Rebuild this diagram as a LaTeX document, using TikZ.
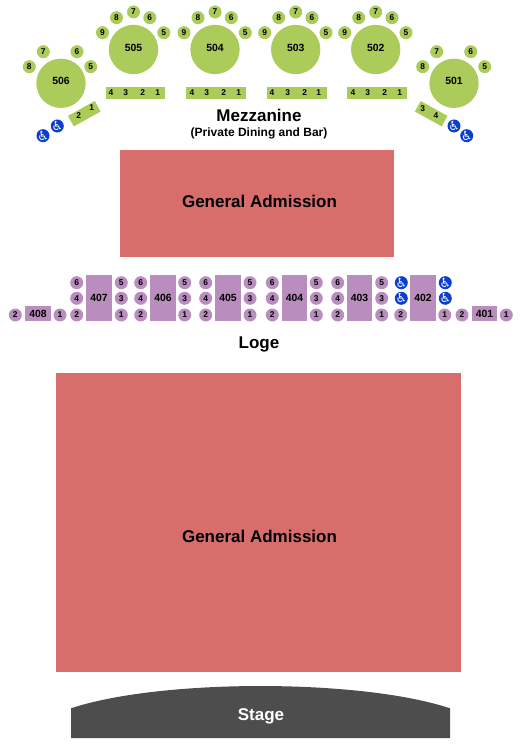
\documentclass[tikz,border=0pt]{standalone}
\usepackage{fontspec}
\setmainfont{Liberation Sans}
\newfontfamily\symfont{DejaVu Sans}
\definecolor{gacol}{HTML}{D76E6C}
\definecolor{mezzcol}{HTML}{ABCB5B}
\definecolor{logecol}{HTML}{B98DBD}
\definecolor{wheelcol}{HTML}{0B3FD0}
\definecolor{stagecol}{HTML}{4D4D4D}
\newcommand{\wheelsym}{\raisebox{-3.4pt}[0pt][0pt]{\makebox[0pt]{♿}}}

\begin{document}
\begin{tikzpicture}[
  x=0.75pt, y=-0.75pt,
  font=\fontsize{6.3pt}{7pt}\selectfont\bfseries,
  seat/.style={circle, inner sep=0pt, minimum size=9.75pt},
  mseat/.style={seat, fill=mezzcol},
  lseat/.style={seat, fill=logecol},
  wheel/.style={seat, fill=wheelcol, text=white, font=\symfont\fontsize{9.5pt}{10pt}\selectfont},
  rownum/.style={inner sep=0pt},
  tablecirc/.style={circle, fill=mezzcol, inner sep=0pt, minimum size=37pt, text depth=3pt, font=\fontsize{7.8pt}{9pt}\selectfont\bfseries},
  mrow/.style={fill=mezzcol, inner sep=0pt, minimum height=9pt, minimum width=23pt},
  lbox/.style={inner sep=0pt, text=black, font=\fontsize{7.8pt}{9pt}\selectfont\bfseries},
  gabox/.style={fill=gacol, inner sep=0pt},
  title/.style={inner sep=0pt, font=\fontsize{12.75pt}{15pt}\selectfont\bfseries}
]
\useasboundingbox (0,0) rectangle (525,755);

% --- Mezzanine tables ---
\foreach \n/\cx in {505/133.5, 504/215, 503/295.7, 502/375.7} {
  \node[tablecirc] (t\n) at (\cx,49.5) {\n};
  \foreach \num/\dx/\yy in {9/-31/32.7, 8/-17/17.7, 7/0/12, 6/16.3/17.7, 5/30.3/32.7}
    \node[mseat] (t\n-\num) at (\cx+\dx,\yy) {\num};
}
\node[tablecirc] (t506) at (61,83.3) {506};
\foreach \num/\xx/\yy in {8/29.3/66.7, 7/43.3/51.7, 6/77/51.7, 5/90.7/66.7}
  \node[mseat] (t506-\num) at (\xx,\yy) {\num};
\node[tablecirc] (t501) at (454,83.3) {501};
\foreach \num/\xx/\yy in {8/422.7/66.7, 7/436.7/51.7, 6/470.7/51.7, 5/484.7/66.7}
  \node[mseat] (t501-\num) at (\xx,\yy) {\num};

% --- Mezzanine rows ---
\foreach \n/\la/\ra/\xa/\xb/\xc/\xd in {505/106/165/111/125.7/142.7/157.7, 504/186/246/192/206.7/223.7/238.7, 503/267/327/272/287.7/304.7/318.7, 502/347/407/353/367.7/384.7/399.7} {
  \fill[mezzcol] (\la,87) rectangle (\ra,99);
  \node[rownum] (r\n-4) at (\xa,93) {4};
  \node[rownum] (r\n-3) at (\xb,93) {3};
  \node[rownum] (r\n-2) at (\xc,93) {2};
  \node[rownum] (r\n-1) at (\xd,93) {1};
}
\node[mrow, rotate=29] (r506) at (84.3,113.7) {};
\node[rownum] (r506-2) at (78.7,116) {2};
\node[rownum] (r506-1) at (91.7,108) {1};
\node[mrow, rotate=-29] (r501) at (431.2,113.7) {};
\node[rownum] (r501-3) at (422.7,109) {3};
\node[rownum] (r501-4) at (436,116) {4};

% --- Mezzanine access seats ---
\node[wheel] (wa) at (57.3,126) {\wheelsym};
\node[wheel] (wb) at (43,135.7) {\wheelsym};
\node[wheel] (wc) at (454,126) {\wheelsym};
\node[wheel] (wd) at (466.7,135.7) {\wheelsym};

\node[title] (mezz) at (259,115) {Mezzanine};
\node[inner sep=0pt, font=\fontsize{9pt}{11pt}\selectfont\bfseries] (mezzsub) at (259,133) {(Private Dining and Bar)};

% --- General admission ---
\node[gabox, minimum width=205.5pt, minimum height=80.25pt] (gaup) at (257,203.5) {};
\node[title] (gauptxt) at (259.5,201) {General Admission};
\node[gabox, minimum width=303.75pt, minimum height=224.25pt] (galow) at (258.5,522.5) {};
\node[title] (galowtxt) at (259.5,536) {General Admission};

% --- Loge ---
\foreach \n/\la/\ra/\sl/\sr in {407/86/112/76.7/121.3, 406/150/176/140.7/184.7, 405/215/241/205.7/250, 404/282/307/272.3/316.3, 403/347/372/337.7/381.7} {
  \fill[logecol] (\la,275) rectangle node[lbox] (s\n) {\n} (\ra,321);
  \foreach \num/\yy in {6/282.7, 4/298.3, 2/315}
    \node[lseat] (s\n-\num) at (\sl,\yy) {\num};
  \foreach \num/\yy in {5/282.7, 3/298.3, 1/315}
    \node[lseat] (s\n-\num) at (\sr,\yy) {\num};
}
\fill[logecol] (410,275) rectangle node[lbox] (s402) {402} (436,321);
\node[wheel] (we) at (401.3,282.7) {\wheelsym};
\node[wheel] (wf) at (401.3,298.3) {\wheelsym};
\node[lseat] (s402-2) at (400.7,315) {2};
\node[wheel] (wg) at (445.3,282.7) {\wheelsym};
\node[wheel] (wh) at (445.3,298.3) {\wheelsym};
\node[lseat] (s402-1) at (444.7,315) {1};

\fill[logecol] (25,306) rectangle node[lbox] (s408) {408} (51,321);
\node[lseat] (s408-2) at (15.3,315) {2};
\node[lseat] (s408-1) at (60,315) {1};
\fill[logecol] (472,306) rectangle node[lbox] (s401) {401} (497,321);
\node[lseat] (s401-2) at (462,315) {2};
\node[lseat] (s401-1) at (506.3,315) {1};

\node[title] (loge) at (259,344) {Loge};

% --- Stage ---
\fill[stagecol] (71,738) -- (71,708.3) .. controls (160,678.6) and (361,678.6) .. (450,708.3) -- (450,738) -- cycle;
\node[title, text=white] (stage) at (261,716) {Stage};

\end{tikzpicture}
\end{document}
